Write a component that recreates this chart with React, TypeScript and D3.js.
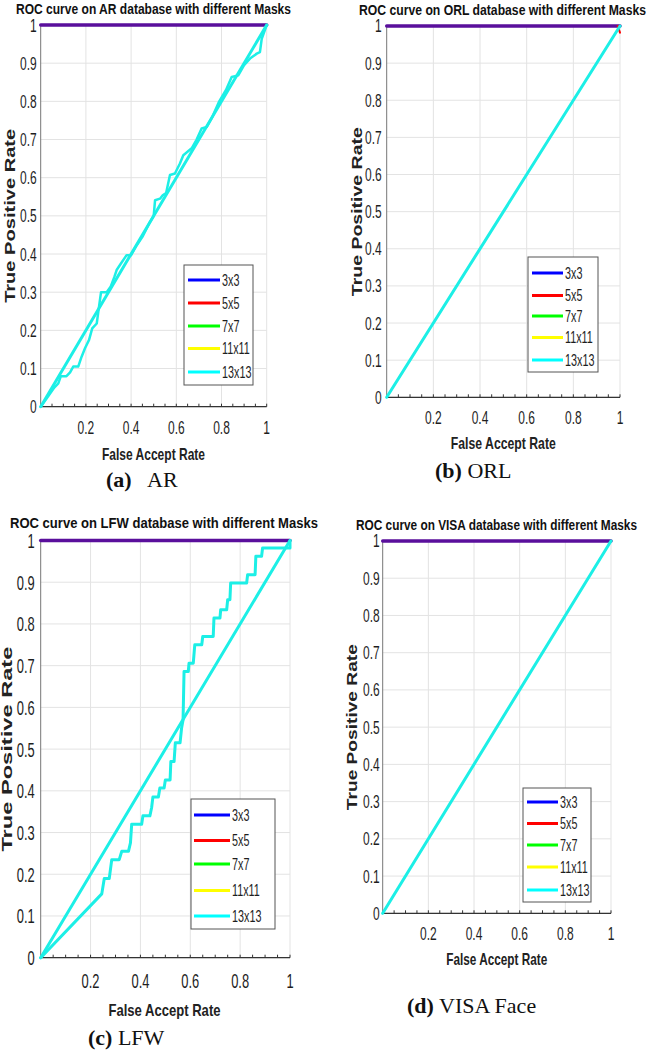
import React from "react";
import * as d3 from "d3";

// ---------- data ----------
const legendLabels = ["3x3", "5x5", "7x7", "11x11", "13x13"];
const legendColors = ["#0000ff", "#ff0000", "#00ff00", "#ffff00", "#00ffff"];
const xTickValues = [0.2, 0.4, 0.6, 0.8, 1];
const yTickValues = [0, 0.1, 0.2, 0.3, 0.4, 0.5, 0.6, 0.7, 0.8, 0.9, 1];
const minorTickValues = d3.range(1, 21).map((i) => i * 0.05);

// overlapped curves of 3x3..11x11 (blue/red/green/yellow overlap -> purple)
const overlapLine: [number, number][] = [[0, 1], [1, 1]];
const diagonalLine: [number, number][] = [[0, 0], [1, 1]];

const arCurve: [number, number][] = [
  [0, 0], [0.03, 0.025], [0.06, 0.05], [0.078, 0.061], [0.089, 0.08], [0.114, 0.08],
  [0.13, 0.09], [0.144, 0.105], [0.166, 0.105], [0.181, 0.131], [0.196, 0.153],
  [0.214, 0.175], [0.228, 0.205], [0.248, 0.218], [0.255, 0.249], [0.267, 0.3],
  [0.292, 0.3], [0.31, 0.315], [0.326, 0.34], [0.336, 0.358], [0.355, 0.375],
  [0.38, 0.397], [0.4, 0.397], [0.425, 0.423], [0.45, 0.445], [0.48, 0.48],
  [0.5, 0.5], [0.506, 0.541], [0.528, 0.545], [0.54, 0.554], [0.555, 0.56],
  [0.572, 0.607], [0.594, 0.611], [0.616, 0.637], [0.631, 0.659], [0.668, 0.677],
  [0.69, 0.7], [0.712, 0.729], [0.735, 0.733], [0.76, 0.76], [0.79, 0.8],
  [0.82, 0.83], [0.845, 0.864], [0.874, 0.868], [0.9, 0.895], [0.926, 0.912],
  [0.956, 0.925], [0.97, 0.929], [0.978, 0.964], [1, 1],
];

const orlRedEnd: [number, number][] = [[0.99, 1], [1, 0.982]];

const lfwCurve: [number, number][] = [
  [0, 0], [0.245, 0.153], [0.255, 0.19], [0.275, 0.19], [0.285, 0.235], [0.315, 0.235],
  [0.325, 0.255], [0.352, 0.255], [0.36, 0.275], [0.365, 0.32], [0.405, 0.32],
  [0.41, 0.34], [0.438, 0.34], [0.445, 0.36], [0.45, 0.385], [0.472, 0.385],
  [0.478, 0.407], [0.495, 0.407], [0.5, 0.426], [0.519, 0.426], [0.522, 0.47],
  [0.535, 0.47], [0.54, 0.515], [0.559, 0.515], [0.565, 0.55], [0.571, 0.57],
  [0.575, 0.686], [0.592, 0.686], [0.595, 0.706], [0.612, 0.706], [0.618, 0.75],
  [0.646, 0.75], [0.65, 0.77], [0.692, 0.77], [0.695, 0.814], [0.719, 0.814],
  [0.722, 0.834], [0.746, 0.834], [0.75, 0.858], [0.759, 0.858], [0.762, 0.898],
  [0.826, 0.898], [0.83, 0.918], [0.86, 0.918], [0.863, 0.962], [0.886, 0.962],
  [0.89, 0.982], [1, 0.982], [1, 1],
];

const titles = [
  "ROC curve on AR database with different Masks",
  "ROC curve on ORL database with different Masks",
  "ROC curve on LFW database with different Masks",
  "ROC curve on VISA database with different Masks",
];
const xAxisLabel = "False Accept Rate";
const yAxisLabel = "True Positive Rate";

// ---------- layout ----------
const PURPLE = "#5a0f9c";
const CYAN = "#1cefe6";
const SANS = "'Liberation Sans', Arial, sans-serif";
const SERIF = "'Liberation Serif', 'Times New Roman', serif";

type Panel = {
  x0: number; x1: number; yT: number; yB: number;
  title: string; titleX: number; titleW: number; titleY: number;
  xlabCx: number; xlabW: number; xlabY: number; xtickY: number;
  ylabX: number; ylabL: number;
  leg: { x0: number; x1: number; y0: number; y1: number; ys: number[]; lx0: number; lx1: number; tx: number };
  curves: { pts: [number, number][]; color: string; w: number }[];
  tsy: number; tsx: number; ygap: number;
  caption: { bold: string; rest: string; x: number; restX?: number; y: number };
};

const panels: Panel[] = [
  {
    x0: 40.7, x1: 266.7, yT: 25, yB: 406.7,
    title: titles[0], titleX: 16, titleW: 275, titleY: 14,
    xlabCx: 153.5, xlabW: 103, xlabY: 460, xtickY: 434,
    ylabX: 15, ylabL: 174,
    leg: { x0: 184, x1: 253, y0: 265, y1: 385, ys: [280, 303, 326, 348.5, 372], lx0: 188, lx1: 220, tx: 222 },
    curves: [
      { pts: overlapLine, color: PURPLE, w: 3.5 },
      { pts: diagonalLine, color: CYAN, w: 3 },
      { pts: arCurve, color: CYAN, w: 2.5 },
    ],
    tsx: 0.8, tsy: 1.22, ygap: 4,
    caption: { bold: "(a)", rest: "AR", x: 106, restX: 147, y: 487 },
  },
  {
    x0: 386.7, x1: 620, yT: 26, yB: 397.3,
    title: titles[1], titleX: 359, titleW: 287, titleY: 15,
    xlabCx: 503.3, xlabW: 105, xlabY: 449, xtickY: 424,
    ylabX: 362, ylabL: 169,
    leg: { x0: 528, x1: 598, y0: 257, y1: 372, ys: [273, 295.5, 316, 337.5, 360], lx0: 532, lx1: 563, tx: 565 },
    curves: [
      { pts: overlapLine, color: PURPLE, w: 3.5 },
      { pts: orlRedEnd, color: "#ff0000", w: 2 },
      { pts: diagonalLine, color: CYAN, w: 3 },
    ],
    tsx: 0.8, tsy: 1.2, ygap: 5,
    caption: { bold: "(b)", rest: " ORL", x: 435, y: 478 },
  },
  {
    x0: 40.7, x1: 290, yT: 540.5, yB: 957.7,
    title: titles[2], titleX: 10, titleW: 308, titleY: 528,
    xlabCx: 164.5, xlabW: 112, xlabY: 1016, xtickY: 988,
    ylabX: 12, ylabL: 205,
    leg: { x0: 191, x1: 275, y0: 799, y1: 929, ys: [815, 840.5, 864, 890.5, 916], lx0: 194, lx1: 230, tx: 232 },
    curves: [
      { pts: overlapLine, color: PURPLE, w: 3.5 },
      { pts: diagonalLine, color: CYAN, w: 3 },
      { pts: lfwCurve, color: CYAN, w: 3 },
    ],
    tsx: 0.86, tsy: 1.38, ygap: 6,
    caption: { bold: "(c)", rest: " LFW", x: 88, y: 1045 },
  },
  {
    x0: 382.7, x1: 611, yT: 541, yB: 913.3,
    title: titles[3], titleX: 356, titleW: 281, titleY: 529.5,
    xlabCx: 496.7, xlabW: 101, xlabY: 965, xtickY: 940,
    ylabX: 357, ylabL: 166,
    leg: { x0: 523, x1: 591, y0: 788, y1: 902, ys: [802, 823.5, 845, 867, 890], lx0: 527, lx1: 558, tx: 560 },
    curves: [
      { pts: overlapLine, color: PURPLE, w: 3.5 },
      { pts: diagonalLine, color: CYAN, w: 3 },
    ],
    tsx: 0.8, tsy: 1.2, ygap: 3,
    caption: { bold: "(d)", rest: " VISA Face", x: 407, y: 1013 },
  },
];

function STxt(props: {
  x: number; y: number; sx: number; sy: number; size: number; anchor?: string;
  weight?: string; children: React.ReactNode; dy?: string;
}) {
  return (
    <text
      transform={`translate(${props.x},${props.y}) scale(${props.sx},${props.sy})`}
      fontSize={props.size}
      fontFamily={SANS}
      fontWeight={props.weight || "normal"}
      textAnchor={props.anchor || "start"}
      dy={props.dy}
      fill="#1e1e1e"
    >
      {props.children}
    </text>
  );
}

function PanelChart({ p }: { p: Panel }) {
  const x = d3.scaleLinear().domain([0, 1]).range([p.x0, p.x1]);
  const y = d3.scaleLinear().domain([0, 1]).range([p.yB, p.yT]);
  const line = d3.line<[number, number]>().x((d) => x(d[0])).y((d) => y(d[1]));
  return (
    <g>
      {/* grid */}
      {xTickValues.map((v) => (
        <line key={"gx" + v} x1={x(v)} x2={x(v)} y1={y(0)} y2={y(1)} stroke="#e3e3e3" strokeWidth={1} />
      ))}
      {yTickValues.map((v) => (
        <line key={"gy" + v} x1={x(0)} x2={x(1)} y1={y(v)} y2={y(v)} stroke="#e3e3e3" strokeWidth={1} />
      ))}
      {/* axes */}
      <line x1={x(0)} x2={x(0)} y1={y(0)} y2={y(1)} stroke="#777" strokeWidth={1} />
      <line x1={x(0)} x2={x(1)} y1={y(0)} y2={y(0)} stroke="#333" strokeWidth={1.2} />
      {minorTickValues.map((v) => (
        <line key={"mt" + v} x1={x(v)} x2={x(v)} y1={y(0)} y2={y(0) - 3} stroke="#333" strokeWidth={1} />
      ))}
      {/* curves */}
      {p.curves.map((c, i) => (
        <path key={"c" + i} d={line(c.pts) || ""} fill="none" stroke={c.color} strokeWidth={c.w}
          strokeLinejoin="round" strokeLinecap="round" />
      ))}
      {/* tick labels */}
      {xTickValues.map((v) => (
        <STxt key={"xt" + v} x={x(v)} y={p.xtickY} sx={p.tsx} sy={p.tsy} size={15} anchor="middle">
          {d3.format("~g")(v)}
        </STxt>
      ))}
      {yTickValues.map((v) => (
        <STxt key={"yt" + v} x={x(0) - p.ygap} y={y(v)} sx={p.tsx} sy={p.tsy} size={15} anchor="end" dy="0.36em">
          {d3.format("~g")(v)}
        </STxt>
      ))}
      {/* title */}
      <text
        transform={`translate(${p.titleX},${p.titleY}) scale(1,1.18)`}
        fontSize={13} fontWeight="bold" fontFamily={SANS}
        textLength={p.titleW} lengthAdjust="spacingAndGlyphs" fill="#111"
      >
        {p.title}
      </text>
      {/* x label */}
      <text
        transform={`translate(${p.xlabCx - p.xlabW / 2},${p.xlabY}) scale(1,1.2)`}
        fontSize={14} fontWeight="bold" fontFamily={SANS}
        textLength={p.xlabW} lengthAdjust="spacingAndGlyphs" fill="#222"
      >
        {xAxisLabel}
      </text>
      {/* y label */}
      <text
        transform={`translate(${p.ylabX},${(p.yT + p.yB) / 2 + p.ylabL / 2}) rotate(-90)`}
        fontSize={14} fontWeight="bold" fontFamily={SANS}
        textLength={p.ylabL} lengthAdjust="spacingAndGlyphs" fill="#222"
      >
        {yAxisLabel}
      </text>
      {/* legend */}
      <rect x={p.leg.x0} y={p.leg.y0} width={p.leg.x1 - p.leg.x0} height={p.leg.y1 - p.leg.y0}
        fill="#fff" stroke="#555" strokeWidth={1} />
      {legendLabels.map((lab, i) => (
        <g key={lab}>
          <line x1={p.leg.lx0} x2={p.leg.lx1} y1={p.leg.ys[i]} y2={p.leg.ys[i]} stroke={legendColors[i]} strokeWidth={3} />
          <STxt x={p.leg.tx} y={p.leg.ys[i]} sx={0.8} sy={1.22} size={13.5} dy="0.36em">{lab}</STxt>
        </g>
      ))}
      {/* caption */}
      <text x={p.caption.x} y={p.caption.y} fontFamily={SERIF} fontSize={22} fill="#111" xmlSpace="preserve">
        <tspan fontWeight="bold">{p.caption.bold}</tspan>
        {p.caption.restX !== undefined ? (
          <tspan x={p.caption.restX}>{p.caption.rest}</tspan>
        ) : (
          <tspan>{p.caption.rest}</tspan>
        )}
      </text>
    </g>
  );
}

export default function App() {
  return (
    <div style={{ position: "absolute", left: 0, top: 0 }}>
      <svg width={649} height={1050} style={{ display: "block", background: "#fff" }}>
        {panels.map((p, i) => (
          <PanelChart key={i} p={p} />
        ))}
      </svg>
    </div>
  );
}
